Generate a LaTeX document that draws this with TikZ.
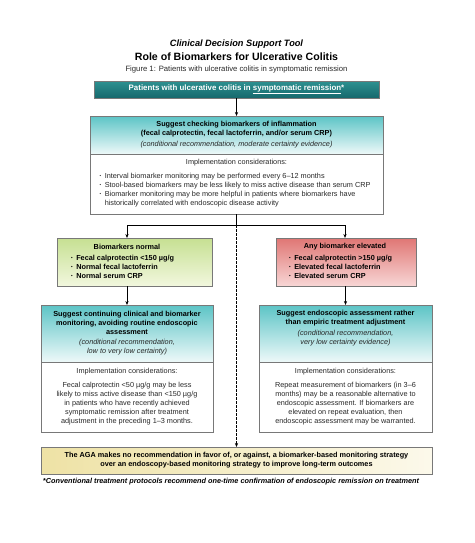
\documentclass[tikz,border=0pt]{standalone}
\usepackage{fontspec}
\setmainfont{Liberation Sans}
\usetikzlibrary{arrows.meta}
\definecolor{txtgray}{RGB}{40,40,40}
\definecolor{boxline}{RGB}{120,120,120}
\definecolor{tealA}{RGB}{45,145,145}
\definecolor{tealB}{RGB}{22,104,108}
\definecolor{tealH}{RGB}{92,196,198}
\definecolor{tealL}{RGB}{238,249,249}
\definecolor{grnH}{RGB}{198,224,146}
\definecolor{grnL}{RGB}{242,247,222}
\definecolor{redH}{RGB}{224,118,116}
\definecolor{redL}{RGB}{248,214,213}
\definecolor{ylwA}{RGB}{238,226,165}
\definecolor{ylwB}{RGB}{252,249,235}
\newcommand{\bfs}{\fontsize{7.3}{9}\selectfont}
\newcommand{\bul}{\raisebox{0.6pt}{\fontsize{4.5}{4.5}\selectfont\textbullet}}
\begin{document}
\begin{tikzpicture}[x=1pt,y=-1pt,
  box/.style={draw=boxline, line width=0.6pt, inner sep=0pt, outer sep=0pt},
  tealhead/.style={box, top color=tealH, bottom color=tealL},
  plainbody/.style={box, fill=white},
  txt/.style={font=\bfs, text=txtgray, inner sep=0pt, align=center},
  conn/.style={line width=0.8pt, black},
  arr/.style={conn, -{Stealth[length=4pt,width=3.2pt]}}
]
\useasboundingbox (0,0) rectangle (474,543);

% titles
\node[inner sep=0pt, font=\fontsize{9.2}{10}\selectfont\bfseries\itshape] (t1) at (236.5,44) {Clinical Decision Support Tool};
\node[inner sep=0pt, font=\fontsize{10.6}{11}\selectfont\bfseries] (t2) at (236.5,57) {Role of Biomarkers for Ulcerative Colitis};
\node[inner sep=0pt, font=\fontsize{7.7}{8}\selectfont, text=txtgray] (t3) at (236.5,70) {Figure 1: Patients with ulcerative colitis in symptomatic remission};

% boxes
\node[box, top color=tealA, bottom color=tealB, minimum width=285pt, minimum height=17pt] (top) at (236.5,89.5) {};
\node[tealhead, minimum width=293pt, minimum height=38pt] (b2h) at (236.5,135) {};
\node[plainbody, minimum width=293pt, minimum height=60pt] (b2b) at (236.5,184) {};
\node[box, top color=grnH, bottom color=grnL, minimum width=155pt, minimum height=48pt] (grn) at (134.5,262) {};
\node[box, top color=redH, bottom color=redL, minimum width=140pt, minimum height=48pt] (red) at (346,262) {};
\node[tealhead, minimum width=172pt, minimum height=57pt] (lrh) at (127,333.5) {};
\node[plainbody, minimum width=172pt, minimum height=70pt] (lrb) at (127,397) {};
\node[tealhead, minimum width=173pt, minimum height=57pt] (rrh) at (345.5,333.5) {};
\node[plainbody, minimum width=173pt, minimum height=70pt] (rrb) at (345.5,397) {};
\node[box, left color=ylwA, right color=ylwB, minimum width=391pt, minimum height=27pt] (aga) at (236.5,460.5) {};

% texts
\node[txt, text=white, font=\fontsize{7.9}{9}\selectfont\bfseries] (toptx) at (top.center) {Patients with ulcerative colitis in \underline{symptomatic remission}*};
\node[txt, text=black, font=\bfs\bfseries] (b2htx) at (236.5,129.5) {Suggest checking biomarkers of inflammation\\(fecal calprotectin, fecal lactoferrin, and/or serum CRP)};
\node[txt, font=\bfs\itshape] (b2hit) at (236.5,145) {(conditional recommendation, moderate certainty evidence)};
\node[txt] (b2bt) at (236.5,163) {Implementation considerations:};
\node[txt, anchor=north west, align=left] (b2bl) at (99.5,171.5) {\begin{tabular}{@{}l@{\hspace{3.5pt}}l@{}}
\bul & Interval biomarker monitoring may be performed every 6–12 months\\
\bul & Stool-based biomarkers may be less likely to miss active disease than serum CRP\\
\bul & Biomarker monitoring may be more helpful in patients where biomarkers have\\
 & historically correlated with endoscopic disease activity
\end{tabular}};

\node[txt, text=black, font=\bfs\bfseries] (grnt) at (127,247) {Biomarkers normal};
\node[txt, text=black, font=\bfs\bfseries, anchor=north west, align=left] (grnl) at (71,253.5) {\begin{tabular}{@{}l@{\hspace{3.5pt}}l@{}}
\bul & Fecal calprotectin <150 µg/g\\
\bul & Normal fecal lactoferrin\\
\bul & Normal serum CRP
\end{tabular}};
\node[txt, text=black, font=\bfs\bfseries] (redt) at (345,247) {Any biomarker elevated};
\node[txt, text=black, font=\bfs\bfseries, anchor=north west, align=left] (redl) at (289,253.5) {\begin{tabular}{@{}l@{\hspace{3.5pt}}l@{}}
\bul & Fecal calprotectin >150 µg/g\\
\bul & Elevated fecal lactoferrin\\
\bul & Elevated serum CRP
\end{tabular}};

\node[txt, text=black, font=\bfs\bfseries] (lrht) at (127,323) {Suggest continuing clinical and biomarker\\monitoring, avoiding routine endoscopic\\assessment};
\node[txt, font=\bfs\itshape] (lrhi) at (127,347.5) {(conditional recommendation,\\low to very low certainty)};
\node[txt] (lrbt) at (127,372) {Implementation considerations:};
\node[txt] (lrbx) at (127,404) {Fecal calprotectin <50 µg/g may be less\\likely to miss active disease than <150 µg/g\\in patients who have recently achieved\\symptomatic remission after treatment\\adjustment in the preceding 1–3 months.};

\node[txt, text=black, font=\bfs\bfseries] (rrht) at (345.5,318.5) {Suggest endoscopic assessment rather\\than empiric treatment adjustment};
\node[txt, font=\bfs\itshape] (rrhi) at (345.5,338.5) {(conditional recommendation,\\very low certainty evidence)};
\node[txt] (rrbt) at (345.5,372) {Implementation considerations:};
\node[txt] (rrbx) at (345.5,404) {Repeat measurement of biomarkers (in 3–6\\months) may be a reasonable alternative to\\endoscopic assessment. If biomarkers are\\elevated on repeat evaluation, then\\endoscopic assessment may be warranted.};

\node[txt, text=black, font=\bfs\bfseries] (agat) at (aga.center) {The AGA makes no recommendation in favor of, or against, a biomarker-based monitoring strategy\\over an endoscopy-based monitoring strategy to improve long-term outcomes};
\node[txt, text=black, font=\bfs\bfseries\itshape] (foot) at (231,482) {*Conventional treatment protocols recommend one-time confirmation of endoscopic remission on treatment};

% connectors
\coordinate (jc) at (236.5,225);
\coordinate (jl) at (127,225);
\coordinate (jr) at (345,225);
\draw[arr] (top) -- (b2h);
\draw[conn] (b2b.south) -- (jc);
\draw[conn] (jl) -- (jr);
\draw[arr] (jl) -- (jl |- grn.north);
\draw[arr] (jr) -- (jr |- red.north);
\draw[arr] (lrh.north |- grn.south) -- (lrh.north);
\draw[arr] (rrh.north |- red.south) -- (rrh.north);
\draw[arr, dashed, dash pattern=on 2.5pt off 1.5pt] (jc) -- (aga.north);
\end{tikzpicture}
\end{document}
